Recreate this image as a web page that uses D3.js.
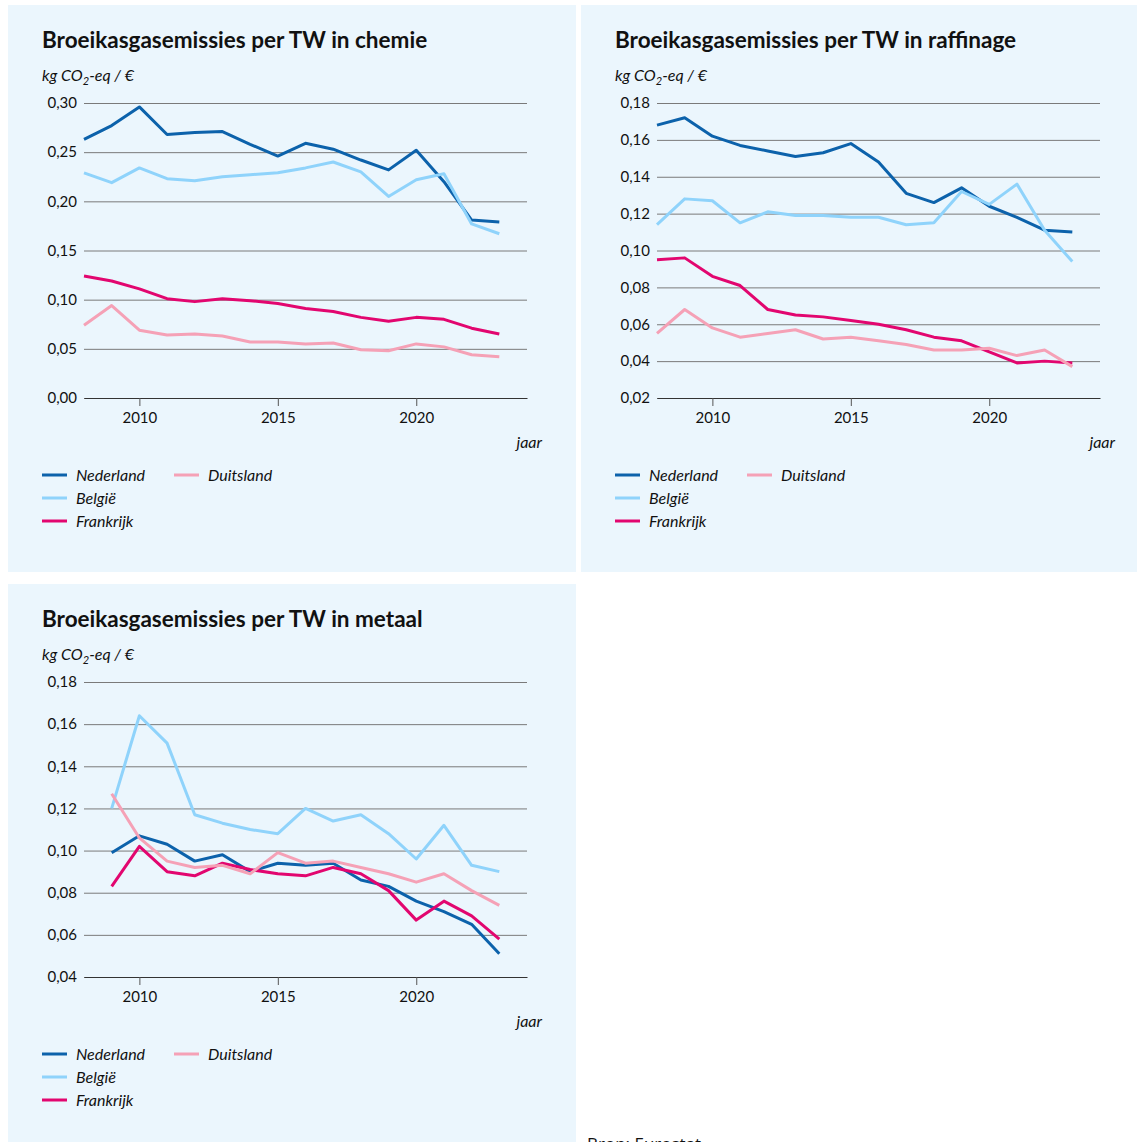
<!DOCTYPE html>
<html>
<head>
<meta charset="utf-8">
<script src="https://cdn.jsdelivr.net/npm/d3@7"></script>
<style>
  body { margin: 0; background: #fff; }
  text { font-family: Lato, "Noto Sans", sans-serif; fill: #111; }
</style>
</head>
<body>
<svg id="chart" width="1137" height="1142"></svg>
<script>
// --- data ---
var countries = ["Nederland", "België", "Frankrijk", "Duitsland"];
var colors = ["#0c62ab", "#8fd3fb", "#e2066f", "#f5a1b6"];

var yearsChemie = [2008, 2009, 2010, 2011, 2012, 2013, 2014, 2015, 2016, 2017, 2018, 2019, 2020, 2021, 2022, 2023];
var chemieNL = [0.263, 0.277, 0.296, 0.268, 0.270, 0.271, 0.258, 0.246, 0.259, 0.253, 0.242, 0.232, 0.252, 0.220, 0.181, 0.179];
var chemieBE = [0.229, 0.219, 0.234, 0.223, 0.221, 0.225, 0.227, 0.229, 0.234, 0.240, 0.230, 0.205, 0.222, 0.228, 0.177, 0.167];
var chemieFR = [0.124, 0.119, 0.111, 0.101, 0.098, 0.101, 0.099, 0.096, 0.091, 0.088, 0.082, 0.078, 0.082, 0.080, 0.071, 0.065];
var chemieDE = [0.074, 0.094, 0.069, 0.064, 0.065, 0.063, 0.057, 0.057, 0.055, 0.056, 0.049, 0.048, 0.055, 0.052, 0.044, 0.042];

var yearsRaffinage = [2008, 2009, 2010, 2011, 2012, 2013, 2014, 2015, 2016, 2017, 2018, 2019, 2020, 2021, 2022, 2023];
var raffinageNL = [0.168, 0.172, 0.162, 0.157, 0.154, 0.151, 0.153, 0.158, 0.148, 0.131, 0.126, 0.134, 0.124, 0.118, 0.111, 0.110];
var raffinageBE = [0.114, 0.128, 0.127, 0.115, 0.121, 0.119, 0.119, 0.118, 0.118, 0.114, 0.115, 0.132, 0.125, 0.136, 0.111, 0.094];
var raffinageFR = [0.095, 0.096, 0.086, 0.081, 0.068, 0.065, 0.064, 0.062, 0.060, 0.057, 0.053, 0.051, 0.045, 0.039, 0.040, 0.039];
var raffinageDE = [0.055, 0.068, 0.058, 0.053, 0.055, 0.057, 0.052, 0.053, 0.051, 0.049, 0.046, 0.046, 0.047, 0.043, 0.046, 0.037];

var yearsMetaal = [2009, 2010, 2011, 2012, 2013, 2014, 2015, 2016, 2017, 2018, 2019, 2020, 2021, 2022, 2023];
var metaalNL = [0.099, 0.107, 0.103, 0.095, 0.098, 0.090, 0.094, 0.093, 0.094, 0.086, 0.083, 0.076, 0.071, 0.065, 0.051];
var metaalBE = [0.120, 0.164, 0.151, 0.117, 0.113, 0.110, 0.108, 0.120, 0.114, 0.117, 0.108, 0.096, 0.112, 0.093, 0.090];
var metaalFR = [0.083, 0.102, 0.090, 0.088, 0.094, 0.091, 0.089, 0.088, 0.092, 0.089, 0.081, 0.067, 0.076, 0.069, 0.058];
var metaalDE = [0.127, 0.106, 0.095, 0.092, 0.093, 0.089, 0.099, 0.094, 0.095, 0.092, 0.089, 0.085, 0.089, 0.081, 0.074];

var xTicks = [2010, 2015, 2020];
var ticksChemie = [0, 0.05, 0.10, 0.15, 0.20, 0.25, 0.30];
var ticksRaffinage = [0.02, 0.04, 0.06, 0.08, 0.10, 0.12, 0.14, 0.16, 0.18];
var ticksMetaal = [0.04, 0.06, 0.08, 0.10, 0.12, 0.14, 0.16, 0.18];

var svg = d3.select("#chart");
var fmt = function(d) { return d3.format(".2f")(d).replace(".", ","); };

function drawPanel(opt) {
    var g = svg.append("g");

    g.append("rect")
        .attr("x", opt.box[0]).attr("y", opt.box[1])
        .attr("width", opt.box[2]).attr("height", opt.box[3])
        .attr("fill", "#ebf6fd");

    var ox = opt.box[0], oy = opt.box[1];

    g.append("text")
        .attr("x", ox + opt.pad).attr("y", oy + 43)
        .style("font-size", "22.5px").style("font-weight", "bold")
        .text(opt.title);

    var unit = g.append("text")
        .attr("x", ox + opt.pad).attr("y", oy + 76)
        .style("font-size", "16px").style("font-style", "italic");
    unit.append("tspan").text("kg CO");
    unit.append("tspan").attr("dy", 4).style("font-size", "11px").text("2");
    unit.append("tspan").attr("dy", -4).text("-eq / €");

    var left = ox + opt.pad + 42, right = left + 443;
    var top = oy + 98, bottom = oy + 393;

    var x = d3.scaleLinear().domain([2008, 2024]).range([left, right]);
    var y = d3.scaleLinear().domain(d3.extent(opt.yTicks)).range([bottom, top]);

    // gridlines + y labels
    var ya = g.append("g")
        .attr("transform", `translate(${left},0)`)
        .call(d3.axisLeft(y).tickValues(opt.yTicks).tickSize(-(right - left)).tickPadding(7).tickFormat(fmt));
    ya.select(".domain").remove();
    ya.selectAll("line").attr("stroke", "#7a7a7a");
    ya.selectAll("text").style("font-size", "15px").attr("fill", "#111");

    // x axis
    var xa = g.append("g")
        .attr("transform", `translate(0,${bottom})`)
        .call(d3.axisBottom(x).tickValues(xTicks).tickSize(8).tickSizeOuter(0).tickPadding(6).tickFormat(d3.format("d")));
    xa.select(".domain").attr("stroke", "#333");
    xa.selectAll("line").attr("stroke", "#555");
    xa.selectAll("text").style("font-size", "15px").attr("fill", "#111");

    g.append("text")
        .attr("x", right + 15).attr("y", bottom + 50)
        .attr("text-anchor", "end")
        .style("font-size", "16px").style("font-style", "italic")
        .text("jaar");

    var line = d3.line()
        .x(function(d) { return x(d[0]); })
        .y(function(d) { return y(d[1]); });

    opt.series.forEach(function(vals, i) {
        g.append("path")
            .datum(opt.years.map(function(yr, j) { return [yr, vals[j]]; }))
            .attr("fill", "none")
            .attr("stroke", colors[i])
            .attr("stroke-width", 3)
            .attr("stroke-linejoin", "round")
            .attr("d", line);
    });

    // legend
    var legPos = [[0, 0], [0, 1], [0, 2], [1, 0]];
    var leg = g.append("g")
        .attr("transform", `translate(${ox + opt.pad},${oy + 470})`);
    countries.forEach(function(c, i) {
        var lx = legPos[i][0] * 132, ly = legPos[i][1] * 23;
        leg.append("line")
            .attr("x1", lx).attr("x2", lx + 25)
            .attr("y1", ly).attr("y2", ly)
            .attr("stroke", colors[i]).attr("stroke-width", 3);
        leg.append("text")
            .attr("x", lx + 34).attr("y", ly).attr("dy", "0.35em")
            .style("font-size", "16px").style("font-style", "italic")
            .text(c);
    });
}

drawPanel({
    box: [8, 5, 568, 567], pad: 34,
    title: "Broeikasgasemissies per TW in chemie",
    years: yearsChemie, series: [chemieNL, chemieBE, chemieFR, chemieDE],
    yTicks: ticksChemie
});

drawPanel({
    box: [581, 5, 556, 567], pad: 34,
    title: "Broeikasgasemissies per TW in raffinage",
    years: yearsRaffinage, series: [raffinageNL, raffinageBE, raffinageFR, raffinageDE],
    yTicks: ticksRaffinage
});

drawPanel({
    box: [8, 584, 568, 558], pad: 34,
    title: "Broeikasgasemissies per TW in metaal",
    years: yearsMetaal, series: [metaalNL, metaalBE, metaalFR, metaalDE],
    yTicks: ticksMetaal
});

svg.append("text")
    .attr("x", 587).attr("y", 1150)
    .style("font-family", "'Open Sans', sans-serif")
    .style("font-size", "17px")
    .text("Bron: Eurostat");
</script>
</body>
</html>
